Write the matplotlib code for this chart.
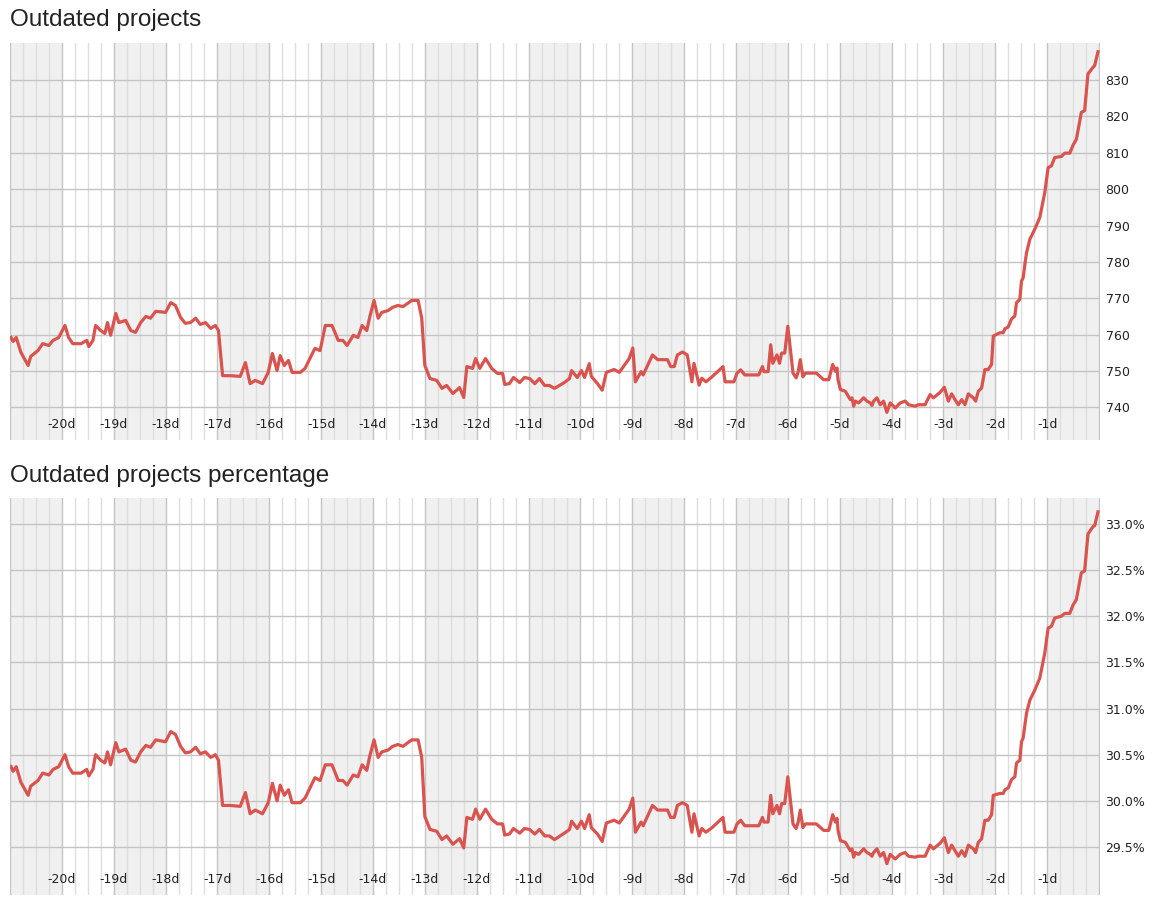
import matplotlib
matplotlib.use("Agg")
import matplotlib.pyplot as plt
import matplotlib.transforms as mtransforms
import numpy as np

# days before now
days = [
    -20.98, -20.94, -20.88, -20.79, -20.65, -20.60, -20.46, -20.37, -20.25, -20.17,
    -20.06, -19.94, -19.87, -19.79, -19.63, -19.52, -19.48, -19.40, -19.35, -19.25,
    -19.17, -19.12, -19.06, -18.96, -18.90, -18.77, -18.67, -18.58, -18.48, -18.38,
    -18.29, -18.19, -18.00, -17.90, -17.81, -17.71, -17.62, -17.52, -17.42, -17.33,
    -17.23, -17.13, -17.04, -16.98, -16.90, -16.75, -16.56, -16.46, -16.37, -16.27,
    -16.13, -16.02, -15.94, -15.85, -15.79, -15.71, -15.63, -15.56, -15.40, -15.31,
    -15.12, -15.02, -14.92, -14.79, -14.67, -14.58, -14.50, -14.38, -14.29, -14.21,
    -14.12, -14.06, -13.98, -13.90, -13.83, -13.71, -13.62, -13.52, -13.42, -13.33,
    -13.25, -13.13, -13.06, -13.00, -12.90, -12.77, -12.67, -12.58, -12.46, -12.33,
    -12.25, -12.19, -12.08, -12.02, -11.94, -11.83, -11.71, -11.60, -11.50, -11.46,
    -11.37, -11.29, -11.17, -11.08, -10.98, -10.88, -10.79, -10.69, -10.60, -10.50,
    -10.31, -10.21, -10.17, -10.06, -9.98, -9.92, -9.83, -9.79, -9.67, -9.58,
    -9.50, -9.35, -9.25, -9.06, -8.99, -8.94, -8.83, -8.79, -8.61, -8.51,
    -8.32, -8.26, -8.19, -8.13, -8.03, -7.94, -7.85, -7.81, -7.71, -7.66,
    -7.58, -7.46, -7.25, -7.21, -7.04, -6.98, -6.91, -6.83, -6.56, -6.49,
    -6.46, -6.38, -6.33, -6.29, -6.21, -6.16, -6.12, -6.06, -6.00, -5.90,
    -5.84, -5.80, -5.76, -5.71, -5.66, -5.45, -5.31, -5.21, -5.135, -5.083,
    -5.051, -5.032, -4.987, -4.891, -4.795, -4.763, -4.731, -4.699, -4.635, -4.538,
    -4.474, -4.410, -4.378, -4.346, -4.282, -4.218, -4.154, -4.090, -4.026, -3.929,
    -3.833, -3.737, -3.673, -3.545, -3.481, -3.353, -3.256, -3.192, -3.064, -2.981,
    -2.904, -2.840, -2.776, -2.712, -2.647, -2.583, -2.519, -2.423, -2.378, -2.327,
    -2.263, -2.199, -2.135, -2.071, -2.038, -1.910, -1.846, -1.814, -1.750, -1.686,
    -1.622, -1.590, -1.526, -1.494, -1.462, -1.429, -1.397, -1.333, -1.237, -1.141,
    -1.045, -0.981, -0.917, -0.853, -0.724, -0.660, -0.564, -0.500, -0.436, -0.340,
    -0.276, -0.212, -0.115, -0.083, -0.019,
]

outdated = [
    759.2, 758.1, 759.2, 755.1, 751.5, 754.0, 755.6, 757.5, 757.0, 758.4,
    759.2, 762.5, 759.2, 757.5, 757.5, 758.4, 756.7, 758.4, 762.5, 761.1,
    760.3, 763.3, 759.8, 765.8, 763.3, 763.9, 761.1, 760.6, 763.3, 765.0,
    764.5, 766.4, 766.1, 768.8, 768.0, 764.7, 763.1, 763.3, 764.5, 762.8,
    763.3, 761.7, 762.5, 761.1, 748.7, 748.7, 748.5, 752.3, 746.5, 747.4,
    746.5, 749.6, 754.8, 750.1, 754.2, 751.5, 752.9, 749.6, 749.6, 750.7,
    756.2, 755.6, 762.5, 762.5, 758.4, 758.4, 757.0, 759.8, 759.2, 762.5,
    761.1, 765.0, 769.4, 764.5, 766.1, 766.6, 767.5, 768.0, 767.7, 768.6,
    769.4, 769.4, 764.5, 751.5, 747.9, 747.4, 745.2, 746.0, 743.8, 745.4,
    742.7, 751.2, 750.7, 753.4, 750.7, 753.4, 750.7, 749.3, 749.3, 746.3,
    746.5, 748.2, 746.8, 748.2, 747.9, 746.5, 747.9, 746.0, 746.0, 745.2,
    746.8, 747.9, 750.1, 748.2, 750.1, 748.2, 752.0, 748.5, 746.5, 744.7,
    749.6, 750.4, 749.6, 753.4, 756.3, 747.0, 749.8, 748.9, 754.4, 753.1,
    753.1, 751.2, 751.2, 754.4, 755.2, 754.4, 747.0, 752.1, 746.1, 748.0,
    747.0, 748.4, 751.2, 747.0, 747.0, 749.4, 750.3, 748.9, 748.9, 751.2,
    749.8, 749.8, 757.2, 752.1, 754.4, 752.1, 754.9, 754.9, 762.3, 749.4,
    748.1, 749.8, 753.1, 748.4, 749.4, 749.4, 747.6, 747.6, 751.8, 749.9,
    750.8, 747.6, 744.9, 744.4, 742.1, 742.6, 740.3, 741.7, 741.2, 742.6,
    741.7, 741.2, 740.5, 741.7, 742.6, 740.7, 741.7, 738.6, 741.2, 739.8,
    741.2, 741.7, 740.7, 740.3, 740.7, 740.7, 743.5, 742.6, 744.1, 745.5,
    741.7, 743.7, 742.1, 740.7, 742.1, 740.7, 743.7, 742.6, 741.7, 744.4,
    745.3, 750.4, 750.4, 751.8, 759.6, 760.5, 760.5, 761.6, 762.1, 764.3,
    765.1, 768.8, 769.7, 774.7, 775.6, 779.3, 782.5, 786.2, 789.0, 792.2,
    799.1, 805.9, 806.4, 808.7, 809.0, 809.9, 809.9, 812.1, 813.7, 821.1,
    821.6, 831.7, 833.5, 834.0, 837.8,
]

outdated_pct = [
    30.37, 30.32, 30.37, 30.20, 30.06, 30.16, 30.22, 30.30, 30.28, 30.34,
    30.37, 30.50, 30.37, 30.30, 30.30, 30.34, 30.27, 30.34, 30.50, 30.44,
    30.41, 30.53, 30.39, 30.63, 30.53, 30.56, 30.44, 30.42, 30.53, 30.60,
    30.58, 30.66, 30.64, 30.75, 30.72, 30.59, 30.52, 30.53, 30.58, 30.51,
    30.53, 30.47, 30.50, 30.44, 29.95, 29.95, 29.94, 30.09, 29.86, 29.90,
    29.86, 29.98, 30.19, 30.00, 30.17, 30.06, 30.12, 29.98, 29.98, 30.03,
    30.25, 30.22, 30.39, 30.39, 30.22, 30.22, 30.17, 30.28, 30.26, 30.39,
    30.33, 30.49, 30.66, 30.47, 30.53, 30.55, 30.59, 30.61, 30.59, 30.63,
    30.66, 30.66, 30.47, 29.83, 29.69, 29.67, 29.58, 29.62, 29.53, 29.59,
    29.49, 29.82, 29.80, 29.91, 29.80, 29.91, 29.80, 29.75, 29.75, 29.63,
    29.64, 29.70, 29.65, 29.70, 29.69, 29.64, 29.69, 29.62, 29.62, 29.58,
    29.65, 29.69, 29.78, 29.70, 29.78, 29.70, 29.85, 29.71, 29.64, 29.56,
    29.76, 29.79, 29.76, 29.91, 30.03, 29.66, 29.77, 29.73, 29.95, 29.90,
    29.90, 29.82, 29.82, 29.95, 29.98, 29.95, 29.66, 29.86, 29.62, 29.70,
    29.66, 29.71, 29.82, 29.66, 29.66, 29.75, 29.79, 29.73, 29.73, 29.82,
    29.77, 29.77, 30.06, 29.86, 29.95, 29.86, 29.97, 29.97, 30.26, 29.75,
    29.70, 29.77, 29.90, 29.71, 29.75, 29.75, 29.68, 29.68, 29.85, 29.77,
    29.81, 29.68, 29.57, 29.55, 29.46, 29.48, 29.39, 29.44, 29.42, 29.48,
    29.44, 29.42, 29.40, 29.44, 29.48, 29.40, 29.44, 29.32, 29.42, 29.37,
    29.42, 29.44, 29.40, 29.39, 29.40, 29.40, 29.52, 29.48, 29.54, 29.60,
    29.44, 29.52, 29.46, 29.40, 29.46, 29.40, 29.52, 29.48, 29.44, 29.55,
    29.59, 29.79, 29.79, 29.85, 30.06, 30.08, 30.08, 30.12, 30.14, 30.23,
    30.26, 30.41, 30.44, 30.64, 30.68, 30.82, 30.95, 31.09, 31.20, 31.33,
    31.60, 31.87, 31.89, 31.98, 32.00, 32.03, 32.03, 32.12, 32.18, 32.47,
    32.49, 32.89, 32.97, 32.98, 33.13,
]

day_ticks = list(range(-20, 0))
day_labels = [f"{d}d" for d in day_ticks]

count_ticks = [740, 750, 760, 770, 780, 790, 800, 810, 820, 830]
count_labels = [str(v) for v in count_ticks]
pct_ticks = [29.5, 30.0, 30.5, 31.0, 31.5, 32.0, 32.5, 33.0]
pct_labels = [f"{v:.1f}%" for v in pct_ticks]

LINE = "#d9534f"
SHADE = "#f0f0f0"

fig = plt.figure(figsize=(11.52, 9.17), dpi=100)


def setup(ax, y, ylim, yticks, ylabels, title, title_y):
    ax.set_xlim(-21, 0.02)
    ax.set_ylim(*ylim)
    for s in ax.spines.values():
        s.set_visible(False)
    # alternating day bands
    for d in range(-21, 0, 2):
        ax.axvspan(d, d + 1, color=SHADE, lw=0, zorder=0)
    # quarter-day minor lines, day major lines
    for q in np.arange(-21, 0.01, 0.25):
        major = abs(q - round(q)) < 1e-6
        ax.axvline(q, color="#c4c4c4" if major else "#dedede", lw=1.0, zorder=1)
    for v in yticks:
        ax.axhline(v, color="#c4c4c4", lw=1.0, zorder=1)
    ax.plot(days, y, color=LINE, lw=2.3, zorder=3, solid_joinstyle="round")
    ax.yaxis.tick_right()
    ax.set_yticks(yticks)
    ax.set_yticklabels(ylabels, fontsize=9, color="#222222")
    ax.tick_params(axis="y", length=0, pad=4)
    ax.set_xticks([])
    trans = mtransforms.blended_transform_factory(ax.transData, ax.transAxes)
    for d, lab in zip(day_ticks, day_labels):
        ax.text(d, 0.022, lab, transform=trans, ha="center", va="bottom",
                fontsize=9, color="#222222", zorder=4)
    fig.text(10 / 1152, title_y, title, fontsize=17.5, family="Liberation Sans",
             color="#222222", ha="left", va="center")


ax1 = fig.add_axes([10 / 1152, 1 - 440 / 917, 1090 / 1152, 397 / 917])
setup(ax1, outdated, (731, 840.2), count_ticks, count_labels,
      "Outdated projects", 1 - 20 / 917)

ax2 = fig.add_axes([10 / 1152, 1 - 895 / 917, 1090 / 1152, 397 / 917])
setup(ax2, outdated_pct, (28.98, 33.28), pct_ticks, pct_labels,
      "Outdated projects percentage", 1 - 476 / 917)

fig.savefig("out.png", dpi=100)
